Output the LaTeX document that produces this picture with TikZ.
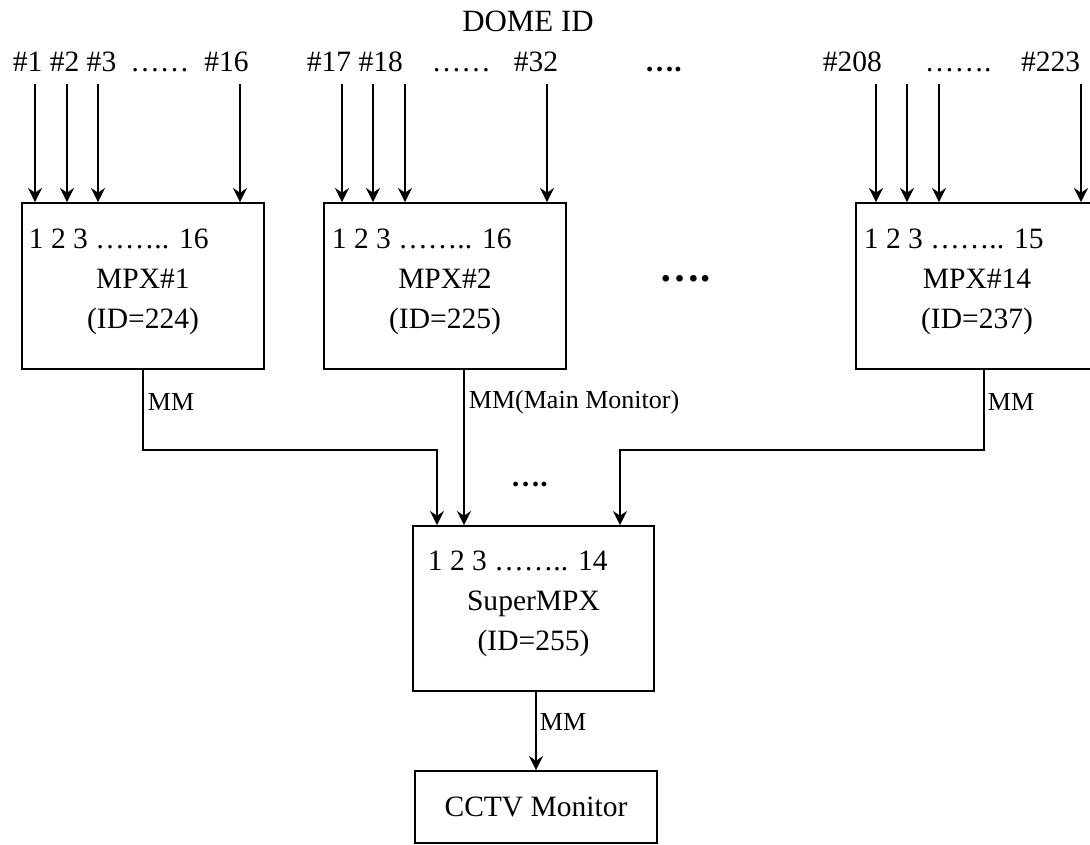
\documentclass[tikz,border=0pt]{standalone}
\usepackage{fontspec}
\setmainfont{Liberation Serif}
\usepackage{amsmath}
\usetikzlibrary{arrows.meta}

\newcommand{\bigtxt}{\fontsize{12.6}{15}\selectfont}
\newcommand{\smalltxt}{\fontsize{11.1}{13}\selectfont}

\begin{document}
\begin{tikzpicture}[x=0.015cm,y=-0.015cm,line width=0.8pt,
		arr/.style={->,>={Stealth[length=6pt,width=6pt,inset=2pt]}},
		mpx/.style={draw, minimum width=3.63cm, minimum height=2.49cm, inner sep=0pt},
		txt/.style={inner sep=0pt, anchor=base west, font=\bigtxt},
		mid/.style={inner sep=0pt, anchor=base, font=\bigtxt},
		mm/.style={inner sep=0pt, anchor=base west, font=\smalltxt}]
		\useasboundingbox (0,0) rectangle (1090,844);

		% dome ids
		\node[mid, font=\fontsize{13.2}{15}\selectfont] at (528,32) (dome) {DOME ID};
		\node[txt] at (12,72) (ga) {\#1 \#2 \#3\hspace{0.21cm}……\hspace{0.225cm}\#16};
		\node[txt] at (306,72) (gb) {\#17 \#18\hspace{0.435cm}……\hspace{0.345cm}\#32};
		\node[txt] at (644,72) (gdots) {\textbf{….}};
		\node[txt] at (822,72) (gn) {\#208\hspace{0.645cm}…….\hspace{0.445cm}\#223};

		% multiplexers
		\node[mpx] at (143,286) (m1) {};
		\node[mpx] at (445,286) (m2) {};
		\node[mpx] at (977,286) (m14) {};
		\node[txt] at (28,248) (m1a) {1 2 3 …….. 16};
		\node[mid] at (143,288) (m1b) {MPX\#1};
		\node[mid] at (143,328) (m1c) {(ID=224)};
		\node[txt] at (331,248) (m2a) {1 2 3 …….. 16};
		\node[mid] at (445,288) (m2b) {MPX\#2};
		\node[mid] at (445,328) (m2c) {(ID=225)};
		\node[txt] at (863,248) (m14a) {1 2 3 …….. 15};
		\node[mid] at (977,288) (m14b) {MPX\#14};
		\node[mid] at (977,328) (m14c) {(ID=237)};
		\node[txt, font=\fontsize{17.5}{20}\selectfont\bfseries] at (659,281) (mdots) {….};

		% super mpx and monitor
		\node[mpx, minimum width=3.615cm, minimum height=2.475cm] at (533.5,608.5) (sm) {};
		\node[txt] at (427,570) (sma) {1 2 3 …….. 14};
		\node[mid] at (533.5,610) (smb) {SuperMPX};
		\node[mid] at (533.5,650) (smc) {(ID=255)};
		\node[draw, minimum width=3.63cm, minimum height=1.08cm, inner sep=0pt, font=\bigtxt] at (536,807) (tv) {CCTV Monitor};
		\node[txt] at (510,486) (ldots) {\textbf{….}};

		\coordinate (i1) at (35,84);
		\coordinate (i2) at (67,84);
		\coordinate (i3) at (98,84);
		\coordinate (i16) at (240,84);
		\coordinate (i17) at (342,84);
		\coordinate (i18) at (373,84);
		\coordinate (i19) at (405,84);
		\coordinate (i32) at (547,84);
		\coordinate (i208) at (876,84);
		\coordinate (i209) at (907,84);
		\coordinate (i210) at (939,84);
		\coordinate (i223) at (1081,84);

		\draw[arr] (i1) -- (i1 |- m1.north);
		\draw[arr] (i2) -- (i2 |- m1.north);
		\draw[arr] (i3) -- (i3 |- m1.north);
		\draw[arr] (i16) -- (i16 |- m1.north);
		\draw[arr] (i17) -- (i17 |- m2.north);
		\draw[arr] (i18) -- (i18 |- m2.north);
		\draw[arr] (i19) -- (i19 |- m2.north);
		\draw[arr] (i32) -- (i32 |- m2.north);
		\draw[arr] (i208) -- (i208 |- m14.north);
		\draw[arr] (i209) -- (i209 |- m14.north);
		\draw[arr] (i210) -- (i210 |- m14.north);
		\draw[arr] (i223) -- (i223 |- m14.north);

		% main monitor outputs
		\coordinate (jl) at (437,450);
		\coordinate (jm) at (464,450);
		\coordinate (jr) at (620,450);
		\draw[arr] (m1.south) |- (jl) -- (jl |- sm.north);
		\draw[arr] (jm |- m2.south) -- (jm |- sm.north);
		\draw[arr] ([xshift=0.105cm]m14.south) |- (jr) -- (jr |- sm.north);
		\draw[arr] (tv.north |- sm.south) -- (tv.north);

		\node[mm] at (147,410) (mma) {MM};
		\node[mm] at (468,408) (mmb) {MM(Main Monitor)};
		\node[mm] at (987,410) (mmn) {MM};
		\node[mm] at (539,730) (mms) {MM};

	\end{tikzpicture}
\end{document}
